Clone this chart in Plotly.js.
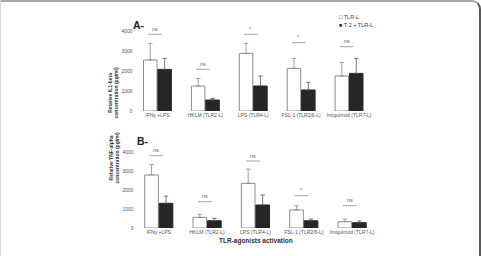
<!DOCTYPE html>
<html>
<head>
<meta charset="utf-8">
<script src="https://cdn.plot.ly/plotly-3.0.1.min.js"></script>
<style>
  html, body { margin: 0; padding: 0; background: #fff; }
  #frame {
    position: relative; width: 481px; height: 256px; box-sizing: border-box;
    border-top: 2px solid #a8a8a8; border-right: 2px solid #5a5a5a; border-left: 1px solid #d8d8d8;
    border-top-right-radius: 9px; overflow: hidden;
  }
  #chart { position: absolute; left: -1px; top: -2px; width: 481px; height: 256px; }
</style>
</head>
<body>
<div id="frame"><div id="chart"></div></div>
<script>
// Agonist groups on the x axis
const categories = ['IFNγ +LPS', 'HKLM (TLR2-L)', 'LPS (TLR4-L)', 'FSL-1 (TLR2/6-L)', 'Imiquimod (TLR7-L)'];
const seriesNames = ['TLR-L', 'T-2 + TLR-L'];

// Panel A: IL1-beta (pg/ml), means and upper error
const il1TLR = [2550, 1250, 2880, 2130, 1750];
const il1TLRErr = [830, 380, 500, 500, 670];
const il1T2 = [2080, 550, 1250, 1050, 1880];
const il1T2Err = [550, 80, 500, 380, 750];
const il1Sig = ['ns', 'ns', '*', '*', 'ns'];
const il1SigLevel = [3835, 2085, 3835, 3415, 3215];

// Panel B: TNF-alpha (pg/ml), means and upper error
const tnfTLR = [2790, 560, 2350, 950, 330];
const tnfTLRErr = [560, 160, 750, 220, 140];
const tnfT2 = [1300, 380, 1210, 380, 280];
const tnfT2Err = [380, 130, 530, 90, 90];
const tnfSig = ['ns', 'ns', 'ns', '*', 'ns'];
const tnfSigLevel = [3805, 1384, 3526, 1700, 1174];

const yTicks = [0, 1000, 2000, 3000, 4000];

const W = 481, H = 256;
const px = v => v / W;
const py = v => 1 - v / H;
const FONT = 'Liberation Sans, Arial, sans-serif';
const zeros = a => a.map(() => 0);

function barPair(valsA, errA, valsB, errB, xa, ya) {
  return [
    {
      type: 'bar', name: seriesNames[0], x: categories, y: valsA, xaxis: xa, yaxis: ya,
      marker: { color: '#ffffff', line: { color: '#8c8c8c', width: 1 } },
      error_y: { type: 'data', symmetric: false, array: errA, arrayminus: zeros(errA), color: '#8a8a8a', thickness: 0.8, width: 2.2 },
      showlegend: false, hoverinfo: 'skip'
    },
    {
      type: 'bar', name: seriesNames[1], x: categories, y: valsB, xaxis: xa, yaxis: ya,
      marker: { color: '#262626', line: { color: '#262626', width: 1 } },
      error_y: { type: 'data', symmetric: false, array: errB, arrayminus: zeros(errB), color: '#555555', thickness: 0.8, width: 2.2 },
      showlegend: false, hoverinfo: 'skip'
    }
  ];
}

const data = [
  ...barPair(il1TLR, il1TLRErr, il1T2, il1T2Err, 'x', 'y'),
  ...barPair(tnfTLR, tnfTLRErr, tnfT2, tnfT2Err, 'x2', 'y2')
];

const xCommon = {
  type: 'category', range: [-0.5, 4.5], showgrid: false, zeroline: false, showline: false,
  ticks: '', tickfont: { family: FONT, size: 5, color: '#555' }, fixedrange: true
};
const yCommon = {
  range: [0, 4500], tickvals: yTicks, showgrid: false, zeroline: false, showline: false,
  ticks: '', tickfont: { family: FONT, size: 5, color: '#555' }, fixedrange: true
};

const shapes = [];
const annotations = [];

function addSig(labels, levels, xref, yref) {
  labels.forEach((lab, i) => {
    shapes.push({
      type: 'line', xref: xref, yref: yref, x0: i - 0.19, x1: i + 0.09,
      y0: levels[i], y1: levels[i], line: { color: '#8a8a8a', width: 0.8 }
    });
    annotations.push({
      xref: xref, yref: yref, x: i - 0.05, y: levels[i], yanchor: 'bottom', yshift: 0.5,
      text: lab, showarrow: false, font: { family: FONT, size: 5.5, color: '#666' }
    });
  });
}
addSig(il1Sig, il1SigLevel, 'x', 'y');
addSig(tnfSig, tnfSigLevel, 'x2', 'y2');

// Panel letters, axis titles and key
annotations.push(
  { xref: 'paper', yref: 'paper', x: px(131), y: py(16.5), text: '<b>A-</b>', showarrow: false,
    font: { family: FONT, size: 10.5, color: '#222' } },
  { xref: 'paper', yref: 'paper', x: px(134.5), y: py(140.5), text: '<b>B-</b>', showarrow: false,
    font: { family: FONT, size: 10.5, color: '#222' } },
  { xref: 'paper', yref: 'paper', x: px(104.5), y: py(66), textangle: -90,
    text: '<b>Relative IL1-beta<br>concentration (pg/ml)</b>', showarrow: false,
    font: { family: FONT, size: 5, color: '#333' } },
  { xref: 'paper', yref: 'paper', x: px(105.5), y: py(186), textangle: -90,
    text: '<b>Relative TNF-alpha<br>concentration (pg/ml)</b>', showarrow: false,
    font: { family: FONT, size: 5, color: '#333' } },
  { xref: 'paper', yref: 'paper', x: px(256), y: py(246.5),
    text: '<b>TLR-agonists activation</b>', showarrow: false,
    font: { family: FONT, size: 6.5, color: '#333' } },
  { xref: 'paper', yref: 'paper', x: px(337), y: py(11.5), xanchor: 'left',
    text: '□ ' + seriesNames[0], showarrow: false, font: { family: FONT, size: 5.5, color: '#444' } },
  { xref: 'paper', yref: 'paper', x: px(337), y: py(20), xanchor: 'left',
    text: '■ ' + seriesNames[1], showarrow: false, font: { family: FONT, size: 5.5, color: '#333' } }
);

const layout = {
  width: W, height: H, margin: { l: 0, r: 0, t: 0, b: 0 },
  paper_bgcolor: 'rgba(0,0,0,0)', plot_bgcolor: 'rgba(0,0,0,0)',
  barmode: 'group', bargap: 0.4, bargroupgap: 0.06, showlegend: false,
  xaxis: { ...xCommon, domain: [px(133.5), px(373)], anchor: 'y' },
  yaxis: { ...yCommon, domain: [py(111), py(21)], anchor: 'x' },
  xaxis2: { ...xCommon, domain: [px(134.6), px(376.3)], anchor: 'y2' },
  yaxis2: { ...yCommon, domain: [py(228), py(142.5)], anchor: 'x2' },
  shapes: shapes, annotations: annotations
};

Plotly.newPlot('chart', data, layout, { staticPlot: true, displayModeBar: false });
</script>
</body>
</html>
